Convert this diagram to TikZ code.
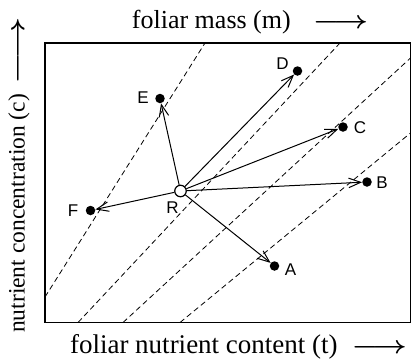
\documentclass[tikz,border=0pt]{standalone}
\usepackage{fontspec}
\setmainfont{Liberation Serif}
\newfontfamily\lsans{Liberation Sans}
\usetikzlibrary{arrows.meta}
\newcommand{\axarrow}[1]{\scalebox{#1}[1]{\boldmath$\longrightarrow$}}
\begin{document}
\begin{tikzpicture}[x=1pt,y=-1pt,
  dot/.style={circle,fill=black,inner sep=0pt,minimum size=9.5pt},
  ptlabel/.style={font=\lsans\fontsize{17}{17}\selectfont,inner sep=0pt},
  axlab/.style={font=\fontsize{26}{28}\selectfont,inner sep=0pt},
  vec/.style={-{Straight Barb[length=12pt,width=9.5pt]},line width=1pt},
  isoline/.style={dash pattern=on 5.5pt off 3.5pt,line width=0.8pt},
  frame/.style={line width=1.6pt}]
\useasboundingbox (0,0) rectangle (412,360);
% frame
\draw[frame] (45,43) rectangle (410.5,322.5);
% iso-mass lines
\coordinate (l1a) at (45,297);  \coordinate (l1b) at (205,43);
\coordinate (l2a) at (78,322.5);  \coordinate (l2b) at (340,43);
\coordinate (l3a) at (123,322.5); \coordinate (l3b) at (410.5,58);
\coordinate (l4a) at (180,322.5); \coordinate (l4b) at (410.5,133);
\draw[isoline] (l1a) -- (l1b);
\draw[isoline] (l2a) -- (l2b);
\draw[isoline] (l3a) -- (l3b);
\draw[isoline] (l4a) -- (l4b);
% points
\node[circle,draw,line width=1.2pt,inner sep=0pt,minimum size=11.5pt,fill=white] (R) at (180.5,191) {};
\node[dot] (A) at (274.5,266) {};
\node[dot] (B) at (367,182) {};
\node[dot] (C) at (343,127) {};
\node[dot] (D) at (297.5,71) {};
\node[dot] (E) at (160,98.5) {};
\node[dot] (F) at (90.5,210.5) {};
% vectors
\foreach \p in {A,B,C,D,E,F} \draw[vec] (R) -- (\p);
% labels
\node[ptlabel] (lA) at (290.5,269.5) {A};
\node[ptlabel] (lB) at (382,183) {B};
\node[ptlabel] (lC) at (360,128) {C};
\node[ptlabel] (lD) at (282.5,63.5) {D};
\node[ptlabel] (lE) at (143,98) {E};
\node[ptlabel] (lF) at (73,211) {F};
\node[ptlabel] (lR) at (172.5,207.5) {R};
% axis labels
\node[axlab] (top) at (250,22) {foliar mass (m)\hspace{22pt}\axarrow{1.2}};
\node[axlab,font=\fontsize{27}{29}\selectfont] (bot) at (238.5,347) {foliar nutrient content (t)\hspace{14pt}\axarrow{1.2}};
\node[axlab,font=\fontsize{23.5}{25}\selectfont,rotate=90] (left) at (19,175) {nutrient concentration (c)\hspace{10pt}\axarrow{1.45}};
\end{tikzpicture}
\end{document}
